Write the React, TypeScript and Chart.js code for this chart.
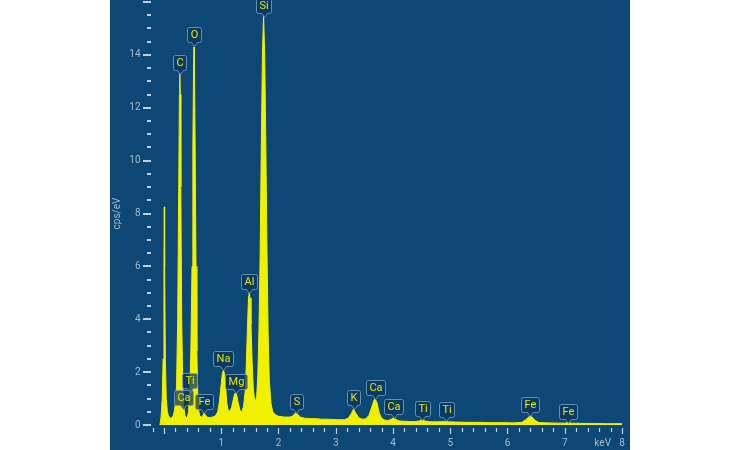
import React, { useEffect, useRef } from "react";
import { Chart, registerables } from "chart.js";

Chart.register(...registerables);

// Spectrum: energy (keV) and intensity (cps/eV)
const energyKeV: number[] = [
  -0.07, -0.05, -0.03, -0.015, 0.0, 0.006, 0.012, 0.025, 0.04, 0.06, 0.08, 0.1, 0.12, 0.14, 0.16, 0.18, 0.2, 0.22, 0.24,
  0.26, 0.27, 0.277, 0.285, 0.295, 0.31, 0.33, 0.35, 0.37, 0.39, 0.41, 0.43, 0.45, 0.47, 0.49, 0.505, 0.517, 0.525,
  0.533, 0.545, 0.56, 0.575, 0.59, 0.61, 0.63, 0.66, 0.68, 0.7, 0.72, 0.75, 0.8, 0.85, 0.9, 0.94, 0.97, 1.0, 1.02,
  1.04, 1.06, 1.08, 1.1, 1.12, 1.15, 1.18, 1.21, 1.235, 1.254, 1.27, 1.3, 1.33, 1.36, 1.39, 1.42, 1.44, 1.46, 1.477,
  1.49, 1.503, 1.52, 1.54, 1.56, 1.58, 1.6, 1.62, 1.64, 1.66, 1.68, 1.7, 1.72, 1.74, 1.76, 1.78, 1.8, 1.82, 1.84,
  1.87, 1.9, 1.95, 2.0, 2.1, 2.2, 2.25, 2.29, 2.31, 2.34, 2.38, 2.45, 2.55, 2.65, 2.75, 2.85, 2.95, 3.05, 3.15, 3.22,
  3.27, 3.31, 3.35, 3.4, 3.46, 3.52, 3.58, 3.63, 3.67, 3.69, 3.72, 3.76, 3.8, 3.86, 3.92, 3.97, 4.01, 4.06, 4.12,
  4.2, 4.3, 4.4, 4.47, 4.51, 4.56, 4.65, 4.8, 4.9, 4.93, 4.97, 5.1, 5.3, 5.5, 5.7, 5.9, 6.1, 6.25, 6.32, 6.37, 6.4,
  6.43, 6.48, 6.55, 6.7, 6.9, 7.0, 7.06, 7.12, 7.3, 7.5, 7.7, 8.0, 8.12,
];
const countsPerEV: number[] = [
  0, 0.3, 1.0, 2.5, 6.0, 8.25, 6.0, 2.5, 1.0, 0.5, 0.35, 0.28, 0.26, 0.28, 0.35, 0.5, 0.8, 1.5, 4.0,
  9.5, 12.5, 13.3, 12.5, 9.0, 4.0, 1.4, 0.6, 0.35, 0.28, 0.3, 0.5, 1.2, 2.8, 6.0, 10.5, 13.5, 14.3,
  13.5, 10.5, 6.0, 2.8, 1.2, 0.5, 0.32, 0.3, 0.36, 0.45, 0.4, 0.3, 0.28, 0.3, 0.35, 0.5, 0.9, 1.55, 1.95,
  2.08, 1.9, 1.35, 0.8, 0.58, 0.52, 0.65, 0.95, 1.18, 1.21, 1.15, 0.8, 0.55, 0.5, 0.7, 1.3, 2.4, 3.8, 4.8,
  5.0, 4.8, 3.8, 2.4, 1.4, 1.0, 0.9, 1.1, 1.9, 3.6, 6.5, 10.5, 14.0, 15.5, 14.0, 10.5, 6.5, 3.4, 1.7,
  0.8, 0.5, 0.38, 0.33, 0.3, 0.3, 0.34, 0.44, 0.46, 0.4, 0.3, 0.26, 0.24, 0.24, 0.22, 0.22, 0.21, 0.2, 0.2, 0.26,
  0.42, 0.6, 0.45, 0.28, 0.22, 0.23, 0.36, 0.68, 0.95, 0.98, 0.85, 0.45, 0.26, 0.18, 0.17, 0.22, 0.27, 0.2, 0.15,
  0.14, 0.13, 0.13, 0.16, 0.19, 0.15, 0.12, 0.12, 0.13, 0.14, 0.12, 0.11, 0.1, 0.1, 0.09, 0.09, 0.08, 0.1, 0.2, 0.3, 0.33,
  0.3, 0.18, 0.09, 0.08, 0.07, 0.07, 0.09, 0.07, 0.06, 0.06, 0.05, 0.05, 0.05,
];

// Element markers: name, energy (keV), marker tip height (cps/eV)
const peakNames: string[] = ["C", "O", "Si", "Al", "Na", "Mg", "Ca", "Ti", "Fe", "S", "K", "Ca", "Ca", "Ti", "Ti", "Fe", "Fe"];
const peakEnergies: number[] = [0.277, 0.525, 1.74, 1.49, 1.04, 1.254, 0.335, 0.452, 0.705, 2.307, 3.313, 3.69, 4.01, 4.51, 4.93, 6.4, 7.06];
const peakTips: number[] = [13.27, 14.33, 15.45, 4.99, 2.08, 1.21, 0.6, 1.25, 0.45, 0.45, 0.6, 0.98, 0.26, 0.19, 0.15, 0.34, 0.08];

// Axis settings
const xMin = -0.2;
const xMax = 8;
const xStep = 0.2;
const yMin = 0;
const yMax = 16;
const yStep = 0.5;
const yTitle = "cps/eV";
const xUnit = "keV";

const BLUE = "#0d4775";
const TICK = "#c3cfdc";
const LABEL = "#a9bbce";
const YELLOW = "#f0f000";
const FONT = "Roboto";

const isMultiple = (v: number, m: number) => Math.abs(v / m - Math.round(v / m)) < 1e-6;

const decorPlugin = {
  id: "decor",
  beforeDraw(chart: any) {
    const ctx = chart.ctx;
    ctx.save();
    ctx.fillStyle = "#ffffff";
    ctx.fillRect(0, 0, chart.width, chart.height);
    ctx.fillStyle = BLUE;
    ctx.fillRect(110, 0, 520, chart.height);
    ctx.restore();
  },
  afterDatasetsDraw(chart: any) {
    const ctx = chart.ctx;
    const xs = chart.scales.x;
    const ys = chart.scales.y;
    ctx.save();
    ctx.font = `11px ${FONT}`;
    ctx.textAlign = "center";
    ctx.textBaseline = "middle";
    for (let i = 0; i < peakNames.length; i++) {
      const name = peakNames[i];
      const tx = xs.getPixelForValue(peakEnergies[i]);
      const ty = ys.getPixelForValue(peakTips[i]);
      const tw = ctx.measureText(name).width;
      const w = Math.max(13, Math.round(tw + 6));
      const h = 15;
      const ph = 4;
      const bottom = Math.round(ty - ph) + 0.5;
      const top = bottom - h;
      const l = Math.round(tx - w / 2) + 0.5;
      const r = l + w;
      const rad = 2;
      const cx = Math.round(tx) + 0.5;
      ctx.beginPath();
      ctx.moveTo(l + rad, top);
      ctx.lineTo(r - rad, top);
      ctx.quadraticCurveTo(r, top, r, top + rad);
      ctx.lineTo(r, bottom - rad);
      ctx.quadraticCurveTo(r, bottom, r - rad, bottom);
      ctx.lineTo(cx + 3, bottom);
      ctx.lineTo(cx, bottom + ph);
      ctx.lineTo(cx - 3, bottom);
      ctx.lineTo(l + rad, bottom);
      ctx.quadraticCurveTo(l, bottom, l, bottom - rad);
      ctx.lineTo(l, top + rad);
      ctx.quadraticCurveTo(l, top, l + rad, top);
      ctx.closePath();
      ctx.fillStyle = "rgba(10, 52, 92, 0.72)";
      ctx.fill();
      ctx.strokeStyle = "rgba(120, 155, 190, 0.85)";
      ctx.lineWidth = 1;
      ctx.stroke();
      ctx.fillStyle = "#e8e800";
      ctx.fillText(name, (l + r) / 2, top + h / 2 + 0.5);
    }
    ctx.restore();
  },
  afterDraw(chart: any) {
    const ctx = chart.ctx;
    const xs = chart.scales.x;
    const ys = chart.scales.y;
    const { left, bottom } = chart.chartArea;
    ctx.save();
    ctx.strokeStyle = TICK;
    ctx.lineWidth = 2;
    for (const t of ys.ticks) {
      const py = Math.round(ys.getPixelForValue(t.value));
      const major = isMultiple(t.value, 2);
      ctx.beginPath();
      ctx.moveTo(major ? left - 9.5 : left - 5.5, py);
      ctx.lineTo(left - 1.5, py);
      ctx.stroke();
    }
    ctx.lineWidth = 1.2;
    for (const t of xs.ticks) {
      const px = Math.round(xs.getPixelForValue(t.value)) + 0.5;
      const major = isMultiple(t.value, 1);
      ctx.beginPath();
      ctx.moveTo(px, bottom + 3);
      ctx.lineTo(px, bottom + (major ? 9 : 7));
      ctx.stroke();
    }
    ctx.fillStyle = LABEL;
    ctx.font = `10px ${FONT}`;
    ctx.textAlign = "right";
    ctx.textBaseline = "middle";
    ctx.fillText(xUnit, xs.getPixelForValue(xMax) - 11, bottom + 18.5);
    ctx.restore();
  },
};

export default function App() {
  const ref = useRef<HTMLCanvasElement | null>(null);
  useEffect(() => {
    if (!ref.current) return;
    const points = energyKeV.map((x, i) => ({ x, y: countsPerEV[i] }));
    const chart = new Chart(ref.current, {
      type: "line",
      data: {
        datasets: [
          {
            data: points,
            borderColor: YELLOW,
            backgroundColor: YELLOW,
            borderWidth: 1,
            fill: "origin",
            pointRadius: 0,
            tension: 0,
            clip: { left: 0, top: 5, right: 9, bottom: 0 } as any,
          },
        ],
      },
      options: {
        animation: false,
        responsive: false,
        devicePixelRatio: 1,
        layout: { padding: { left: 110, right: 118, top: 2, bottom: 0 } },
        plugins: { legend: { display: false }, tooltip: { enabled: false } },
        events: [],
        scales: {
          x: {
            type: "linear",
            min: xMin,
            max: xMax,
            border: { display: false },
            grid: { display: true, drawOnChartArea: false, drawTicks: true, tickLength: 8, color: "transparent", tickColor: "transparent" },
            ticks: {
              stepSize: xStep,
              autoSkip: false,
              maxRotation: 0,
              padding: 4,
              color: LABEL,
              font: { family: FONT, size: 10 },
              callback: (v: any) => (isMultiple(Number(v), 1) && Number(v) >= 0 ? String(Math.round(Number(v))) : ""),
            },
            afterFit: (s: any) => {
              s.height = 25;
              s.paddingLeft = 0;
              s.paddingRight = 0;
            },
          },
          y: {
            type: "linear",
            min: yMin,
            max: yMax,
            border: { display: false },
            grid: { display: true, drawOnChartArea: false, drawTicks: true, tickLength: 10, color: "transparent", tickColor: "transparent" },
            title: { display: true, text: yTitle, color: LABEL, font: { family: FONT, size: 10 }, padding: { top: 1, bottom: 0 } },
            ticks: {
              stepSize: yStep,
              autoSkip: false,
              padding: 2,
              color: LABEL,
              font: { family: FONT, size: 10 },
              callback: (v: any) => (isMultiple(Number(v), 2) && Number(v) < yMax ? String(v) : ""),
            },
            afterFit: (s: any) => {
              s.width = 42.5;
              s.paddingTop = 0;
              s.paddingBottom = 0;
            },
          },
        },
      },
      plugins: [decorPlugin],
    });
    return () => chart.destroy();
  }, []);
  return (
    <div style={{ position: "absolute", left: 0, top: 0, width: 740, height: 450, background: "#fff" }}>
      <canvas ref={ref} width={740} height={450} style={{ display: "block" }} />
    </div>
  );
}
